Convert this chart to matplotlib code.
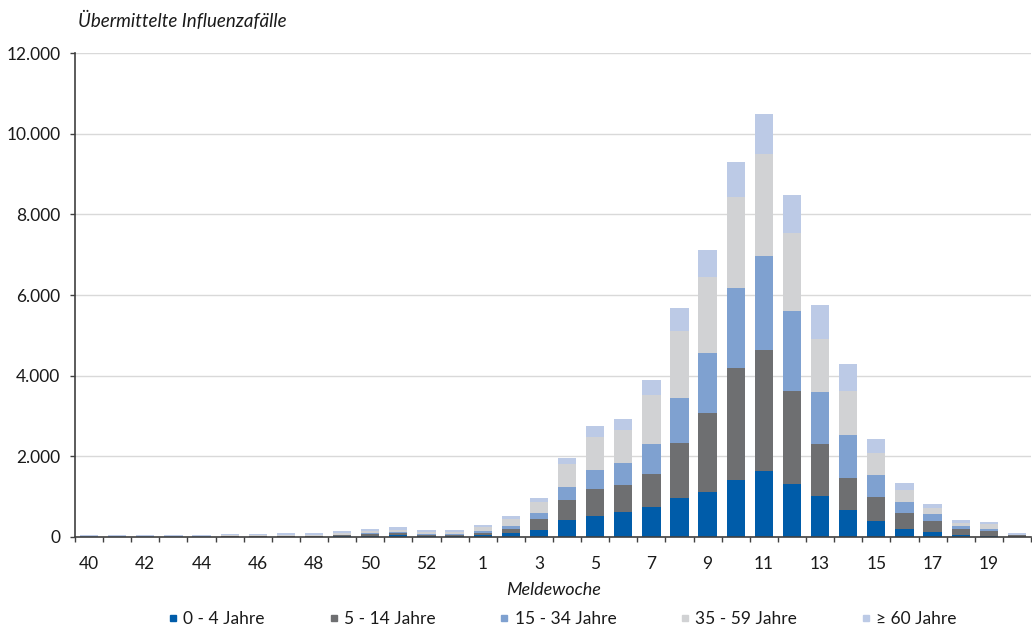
import matplotlib
matplotlib.use('Agg')
import matplotlib.pyplot as plt
from matplotlib.lines import Line2D
from matplotlib.ticker import FuncFormatter
import numpy as np

plt.rcParams['font.family'] = ['Lato', 'DejaVu Sans']

weeks = [40, 41, 42, 43, 44, 45, 46, 47, 48, 49, 50, 51, 52, 53,
         1, 2, 3, 4, 5, 6, 7, 8, 9, 10, 11, 12, 13, 14, 15, 16, 17, 18, 19, 20]

age_0_4 = [3, 3, 3, 3, 3, 5, 5, 8, 8, 15, 30, 45, 20, 25,
           40, 90, 170, 410, 530, 610, 740, 970, 1120, 1410, 1630, 1310,
           1020, 670, 400, 210, 120, 40, 20, 10]
age_5_14 = [5, 5, 5, 5, 5, 8, 8, 12, 12, 25, 35, 45, 30, 30,
            50, 100, 270, 500, 660, 680, 810, 1360, 1960, 2780, 3000, 2300,
            1280, 790, 590, 390, 270, 150, 120, 30]
age_15_34 = [10, 10, 10, 10, 10, 12, 12, 15, 15, 20, 25, 35, 25, 25,
             50, 80, 150, 330, 470, 540, 760, 1120, 1480, 1980, 2340, 1990,
             1290, 1060, 550, 260, 170, 70, 70, 10]
age_35_59 = [8, 8, 8, 8, 8, 15, 15, 25, 25, 40, 50, 55, 45, 40,
             100, 170, 270, 570, 820, 830, 1200, 1650, 1880, 2250, 2520, 1930,
             1320, 1090, 540, 300, 160, 80, 100, 10]
age_60 = [14, 14, 14, 14, 14, 25, 25, 30, 30, 40, 50, 60, 45, 45,
          50, 70, 100, 150, 280, 270, 370, 570, 670, 870, 1010, 940,
          830, 670, 340, 170, 90, 70, 50, 50]

series = [age_0_4, age_5_14, age_15_34, age_35_59, age_60]
labels = ['0 - 4 Jahre', '5 - 14 Jahre', '15 - 34 Jahre', '35 - 59 Jahre', '\u2265 60 Jahre']
colors = ['#005CA9', '#6E6F71', '#7FA1D0', '#D1D2D4', '#BCCAE6']

fig = plt.figure(figsize=(10.32, 6.29), dpi=100)
ax = fig.add_axes([0.0727, 0.1463, 0.9263, 0.7694])

x = np.arange(len(weeks))
bottom = np.zeros(len(weeks))
for vals, col in zip(series, colors):
    ax.bar(x, vals, width=0.65, bottom=bottom, color=col, zorder=3, linewidth=0)
    bottom += np.array(vals)

ax.set_xlim(-0.5, len(weeks) - 0.5)
ax.set_ylim(0, 12000)
ax.set_yticks(np.arange(0, 12001, 2000))
ax.yaxis.set_major_formatter(FuncFormatter(lambda v, p: f'{int(v):,}'.replace(',', '.')))
ax.grid(axis='y', color='#D9D9D9', linewidth=1, zorder=0)

# tick marks between the bars, labels every second week
ax.set_xticks(np.arange(-0.5, len(weeks), 1))
ax.set_xticklabels([])
ax.set_xticks(x[::2], minor=True)
ax.set_xticklabels([str(w) for w in weeks[::2]], minor=True)
ax.tick_params(axis='x', which='major', length=3.6, width=1, color='#404040', direction='out')
ax.tick_params(axis='x', which='minor', length=0, pad=14, labelsize=12.5, labelcolor='#1a1a1a')
ax.tick_params(axis='y', length=3.6, width=1, color='#404040', labelsize=12.5, labelcolor='#1a1a1a', pad=7)

for s in ['top', 'right']:
    ax.spines[s].set_visible(False)
for s in ['left', 'bottom']:
    ax.spines[s].set_color('#404040')
    ax.spines[s].set_linewidth(1.2)
    ax.spines[s].set_zorder(4)

fig.text(0.0756, 0.968, '\u00dcbermittelte Influenzaf\u00e4lle', fontsize=13.5,
         style='italic', color='#1a1a1a', va='center', ha='left')
fig.text(0.536, 0.062, 'Meldewoche', fontsize=13, style='italic',
         color='#1a1a1a', va='center', ha='center')

handles = [Line2D([], [], marker='s', linestyle='', markersize=5, color=c) for c in colors]
fig.legend(handles, labels, loc='center', bbox_to_anchor=(0.544, 0.016), ncol=5,
           frameon=False, fontsize=12.5, handletextpad=0.2, columnspacing=3.55,
           handlelength=0.8, labelcolor='#1a1a1a')

plt.savefig('out.png', dpi=100)
plt.close(fig)
